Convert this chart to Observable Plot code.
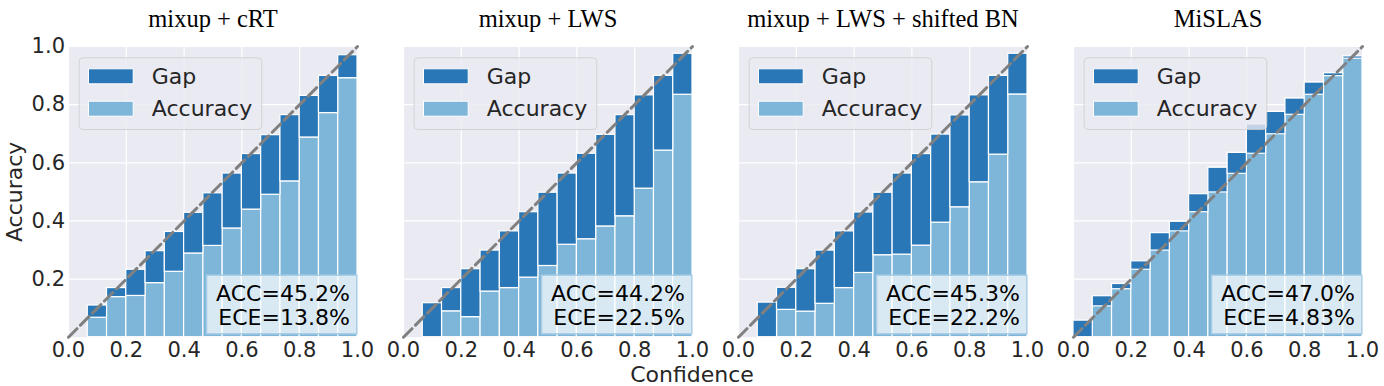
<!DOCTYPE html>
<html><head><meta charset="utf-8">
<script src="https://cdn.jsdelivr.net/npm/d3@7"></script>
<script src="https://cdn.jsdelivr.net/npm/@observablehq/plot@0.6"></script>
<style>body{margin:0;background:#fff;}</style>
</head><body><div id="chart"></div>
<script>
// ---- data ----
const models = ["mixup + cRT", "mixup + LWS", "mixup + LWS + shifted BN", "MiSLAS"];
const accLabels = ["ACC=45.2%", "ACC=44.2%", "ACC=45.3%", "ACC=47.0%"];
const eceLabels = ["ECE=13.8%", "ECE=22.5%", "ECE=22.2%", "ECE=4.83%"];
const nBins = 15;
const xTicks = [0, 0.2, 0.4, 0.6, 0.8, 1.0];
const yTicks = [0.2, 0.4, 0.6, 0.8, 1.0];
const diagonal = [0, 1];
const legendLabels = ["Gap", "Accuracy"];

// mean confidence and accuracy per bin (null = empty bin)
const conf_cRT = [null, 0.109, 0.169, 0.232, 0.296, 0.362, 0.428, 0.495, 0.563, 0.630, 0.695, 0.764, 0.830, 0.899, 0.970];
const acc_cRT  = [null, 0.067, 0.138, 0.142, 0.186, 0.225, 0.288, 0.314, 0.374, 0.439, 0.490, 0.536, 0.687, 0.771, 0.891];
const conf_LWS = [null, 0.117, 0.169, 0.234, 0.298, 0.364, 0.430, 0.497, 0.563, 0.631, 0.696, 0.764, 0.832, 0.899, 0.975];
const acc_LWS  = [null, 0.000, 0.089, 0.069, 0.157, 0.169, 0.205, 0.245, 0.318, 0.337, 0.381, 0.416, 0.511, 0.642, 0.834];
const conf_LWS_BN = [null, 0.119, 0.170, 0.234, 0.298, 0.364, 0.429, 0.497, 0.563, 0.630, 0.697, 0.763, 0.832, 0.899, 0.975];
const acc_LWS_BN  = [null, 0.000, 0.094, 0.088, 0.115, 0.169, 0.221, 0.282, 0.284, 0.315, 0.394, 0.447, 0.533, 0.628, 0.835];
const conf_MiSLAS = [0.057, 0.106, 0.165, 0.232, 0.298, 0.364, 0.430, 0.498, 0.562, 0.631, 0.698, 0.765, 0.834, 0.898, 0.958];
const acc_MiSLAS  = [0.000, 0.141, 0.183, 0.261, 0.358, 0.397, 0.492, 0.583, 0.634, 0.732, 0.775, 0.821, 0.876, 0.908, 0.966];

const series = [[conf_cRT, acc_cRT], [conf_LWS, acc_LWS], [conf_LWS_BN, acc_LWS_BN], [conf_MiSLAS, acc_MiSLAS]];
const rows = [];
models.forEach((m, k) => {
  const [c, a] = series[k];
  c.forEach((cv, i) => {
    if (cv == null) return;
    rows.push({model: m, x1: i / nBins, x2: (i + 1) / nBins, conf: cv, acc: a[i]});
  });
});

// ---- style ----
const W = 1384, H = 386;
const dark = "#2a77b7", light = "#7eb6d9", bg = "#EAEAF2", ink = "#262626";

const plot = Plot.plot({
  width: W, height: H,
  marginLeft: 66.7, marginRight: 20, marginTop: 46, marginBottom: 49.3,
  style: {fontFamily: "DejaVu Sans", fontSize: "21px", color: ink, background: "#fff", overflow: "visible"},
  fx: {domain: models, paddingInner: 0.1363, paddingOuter: 0, axis: null, label: null},
  x: {domain: [0, 1]},
  y: {domain: [0, 1]},
  marks: [
    Plot.frame({fill: bg, stroke: "none"}),
    Plot.gridX({ticks: xTicks, stroke: "white", strokeOpacity: 1, strokeWidth: 1.2}),
    Plot.gridY({ticks: yTicks, stroke: "white", strokeOpacity: 1, strokeWidth: 1.2}),
    Plot.rect(rows.filter(d => d.acc > 0), {fx: "model", x1: "x1", x2: "x2", y1: 0, y2: "acc", fill: light, stroke: "white", strokeWidth: 1.2}),
    Plot.rect(rows, {fx: "model", x1: "x1", x2: "x2", y1: "acc", y2: "conf", fill: dark, stroke: "white", strokeWidth: 1.2}),
    Plot.line(diagonal, {x: d => d, y: d => d, stroke: "#808080", strokeWidth: 3, strokeDasharray: "12,5"}),
    Plot.axisX({ticks: xTicks, tickFormat: d3.format(".1f"), tickSize: 0, tickPadding: 5, label: null}),
    Plot.axisY({ticks: yTicks, tickFormat: d3.format(".1f"), tickSize: 0, tickPadding: 3.5, label: null}),
    Plot.text(models, {fx: d => d, text: d => d, frameAnchor: "top", lineAnchor: "bottom", dy: -20,
      fontFamily: "Liberation Serif", fontSize: 24.5, fill: "black"})
  ]
});
document.getElementById("chart").append(plot);

// ---- overlays: legend, score box, axis titles ----
const svg = d3.select(plot);
const sb = plot.getBoundingClientRect();
let frames = Array.from(plot.querySelectorAll('g[aria-label="frame"] rect'))
  .map(r => r.getBoundingClientRect())
  .map(r => ({x: r.left - sb.left, y: r.top - sb.top, w: r.width, h: r.height}))
  .sort((a, b) => a.x - b.x);
if (frames.length !== models.length) {
  const band = d3.scaleBand().domain(models).range([66.7, W - 20]).paddingInner(0.1363).paddingOuter(0);
  frames = models.map(m => ({x: band(m), y: 46, w: band.bandwidth(), h: H - 46 - 49.3}));
}
const layer = svg.append("g").attr("font-family", "DejaVu Sans").attr("text-anchor", "start");
frames.forEach((f, i) => {
  // score box
  const g = layer.append("g");
  const t = g.append("text").attr("text-anchor", "end").attr("font-size", 22).attr("fill", "black");
  t.append("tspan").attr("x", f.x + f.w - 7.7).attr("y", f.y + 254).text(accLabels[i]);
  t.append("tspan").attr("x", f.x + f.w - 7.7).attr("y", f.y + 278.3).text(eceLabels[i]);
  const bb = t.node().getBBox();
  const bx = bb.x - 9.5;
  g.insert("rect", "text").attr("x", bx).attr("y", f.y + 228.7)
    .attr("width", f.x + f.w - 0.7 - bx).attr("height", 58.6)
    .attr("fill", "white").attr("fill-opacity", 0.7)
    .attr("stroke", "#a9cde6").attr("stroke-width", 1.5);
  // legend
  const lg = layer.append("g");
  lg.append("rect").attr("x", f.x + 10.6).attr("y", f.y + 11.3).attr("width", 182.7).attr("height", 71.7)
    .attr("rx", 4).attr("fill", bg).attr("fill-opacity", 0.8).attr("stroke", "#cccccc").attr("stroke-opacity", 0.8);
  [dark, light].forEach((c, j) => {
    lg.append("rect").attr("x", f.x + 20).attr("y", f.y + 22.3 + j * 32.4).attr("width", 44.7).attr("height", 15)
      .attr("fill", c).attr("stroke", "white").attr("stroke-width", 1);
    lg.append("text").attr("x", f.x + 83.3).attr("y", f.y + 37.3 + j * 31.9).attr("text-anchor", "start")
      .attr("font-size", 22).attr("fill", ink).text(legendLabels[j]);
  });
});
svg.append("text").attr("x", W / 2).attr("y", 381.5).attr("text-anchor", "middle")
  .attr("font-family", "DejaVu Sans").attr("font-size", 22).attr("fill", ink).text("Confidence");
const cy = frames[0].y + frames[0].h / 2;
svg.append("text").attr("transform", `translate(22,${cy}) rotate(-90)`).attr("text-anchor", "middle")
  .attr("font-family", "DejaVu Sans").attr("font-size", 22).attr("fill", ink).text("Accuracy");
</script>
</body></html>
